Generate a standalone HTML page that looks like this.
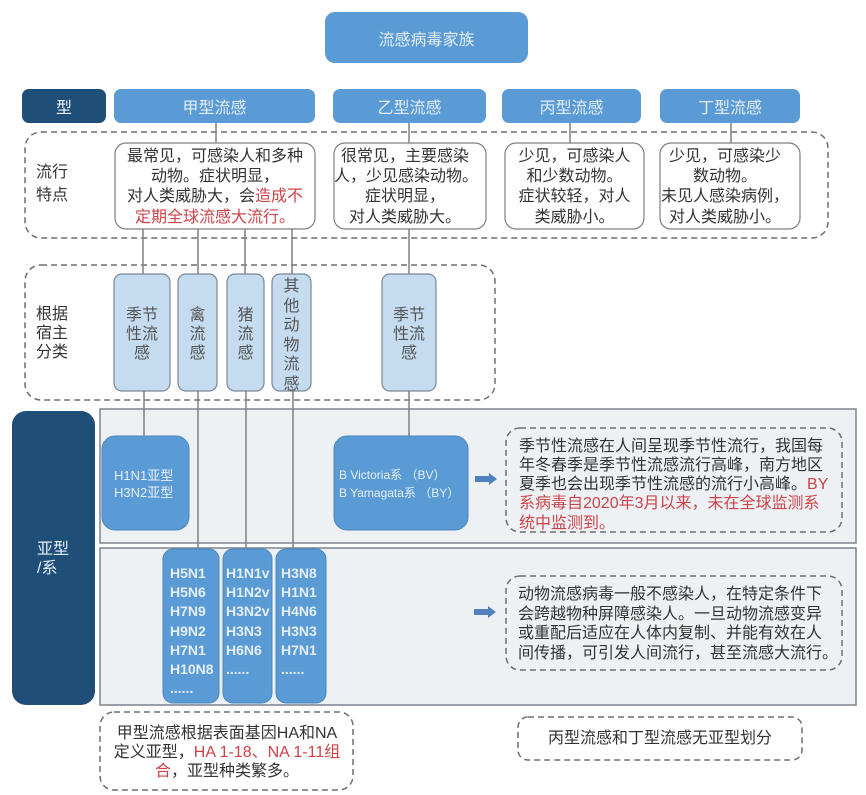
<!DOCTYPE html>
<html><head><meta charset="utf-8">
<style>
html,body{margin:0;padding:0;background:#fff;}
body{width:866px;height:795px;position:relative;overflow:hidden;font-family:"Liberation Sans","Noto Sans CJK SC",sans-serif;}
.t{position:absolute;white-space:nowrap;font-size:16px;color:#333;}
.c{text-align:center;}
.hd{position:absolute;display:flex;align-items:center;justify-content:center;color:#e3edf7;font-size:16px;white-space:nowrap;}
.r{color:#cc4449;}
.w{color:#eaf2fa;}
.sub{position:absolute;white-space:nowrap;font-size:14px;font-weight:bold;color:#e4eef8;line-height:19.2px;}
</style></head>
<body>
<svg width="866" height="795" style="position:absolute;left:0;top:0" xmlns="http://www.w3.org/2000/svg">
  <!-- title -->
  <rect x="325" y="12" width="203" height="51" rx="10" fill="#5b9bd5"/>
  <!-- type row -->
  <rect x="22" y="89" width="84" height="34" rx="7" fill="#1f4e79"/>
  <rect x="114" y="89" width="201" height="34" rx="7" fill="#5b9bd5"/>
  <rect x="333" y="89" width="153" height="34" rx="7" fill="#5b9bd5"/>
  <rect x="502" y="89" width="139" height="34" rx="7" fill="#5b9bd5"/>
  <rect x="660" y="89" width="140" height="34" rx="7" fill="#5b9bd5"/>

  <!-- dashed region 1 -->
  <rect x="25" y="132" width="803" height="106" rx="16" fill="none" stroke="#6e6e6e" stroke-width="1.5" stroke-dasharray="6 4"/>
  <!-- dashed region 2 -->
  <rect x="25" y="265" width="470" height="135" rx="16" fill="none" stroke="#6e6e6e" stroke-width="1.5" stroke-dasharray="6 4"/>

  <!-- connectors -->
  <g stroke="#808080" stroke-width="1.5">
    <line x1="216" y1="123" x2="216" y2="143"/>
    <line x1="409" y1="123" x2="409" y2="143"/>
    <line x1="570" y1="123" x2="570" y2="143"/>
    <line x1="731" y1="123" x2="731" y2="143"/>
    <line x1="143" y1="229" x2="143" y2="274"/>
    <line x1="198" y1="229" x2="198" y2="274"/>
    <line x1="245" y1="229" x2="245" y2="274"/>
    <line x1="292" y1="229" x2="292" y2="274"/>
    <line x1="409" y1="229" x2="409" y2="274"/>
  </g>

  <!-- text boxes -->
  <g fill="#fff" stroke="#7f7f7f" stroke-width="1.2">
    <rect x="115" y="143" width="200" height="86" rx="11"/>
    <rect x="334" y="143" width="152" height="86" rx="11"/>
    <rect x="505" y="143" width="139" height="86" rx="11"/>
    <rect x="660" y="143" width="140" height="86" rx="11"/>
  </g>

  <!-- host boxes -->
  <g fill="#c4dbf0" stroke="#7a8794" stroke-width="1.2">
    <rect x="114" y="274" width="56" height="117" rx="8"/>
    <rect x="178" y="274" width="39" height="117" rx="8"/>
    <rect x="227" y="274" width="37" height="117" rx="8"/>
    <rect x="272" y="274" width="39" height="117" rx="8"/>
    <rect x="382" y="274" width="54" height="117" rx="8"/>
  </g>

  <!-- panels -->
  <rect x="100" y="409" width="756" height="134" fill="#eef1f4" stroke="#7d848b" stroke-width="1.5"/>
  <rect x="100" y="548" width="756" height="157" fill="#eef1f4" stroke="#7d848b" stroke-width="1.5"/>

  <!-- navy subtype label -->
  <rect x="12" y="411" width="83" height="294" rx="14" fill="#1f4e79"/>

  <!-- connectors host -> subtype -->
  <g stroke="#808080" stroke-width="1.5">
    <line x1="144" y1="391" x2="144" y2="436"/>
    <line x1="198" y1="391" x2="198" y2="549"/>
    <line x1="246" y1="391" x2="246" y2="549"/>
    <line x1="293" y1="391" x2="293" y2="549"/>
    <line x1="409" y1="391" x2="409" y2="436"/>
  </g>

  <!-- subtype boxes -->
  <g fill="#5b9bd5" stroke="#4a86c0" stroke-width="1">
    <rect x="102" y="436" width="87" height="94" rx="13"/>
    <rect x="334" y="436" width="134" height="94" rx="13"/>
    <rect x="163" y="549" width="56" height="154" rx="10"/>
    <rect x="223" y="549" width="49" height="154" rx="10"/>
    <rect x="276" y="549" width="50" height="154" rx="10"/>
  </g>

  <!-- arrows -->
  <g fill="#4f81bd">
    <polygon points="475,476 489,476 489,473 497,479 489,485 489,482 475,482"/>
    <polygon points="474,609 488,609 488,606 496,612 488,618 488,615 474,615"/>
  </g>

  <!-- dashed text boxes -->
  <g fill="none" stroke="#6e6e6e" stroke-width="1.5" stroke-dasharray="6 4">
    <rect x="506" y="428" width="336" height="104" rx="14"/>
    <rect x="506" y="576" width="336" height="94" rx="14"/>
    <rect x="100" y="712" width="253" height="78" rx="14"/>
    <rect x="518" y="717" width="284" height="43" rx="10"/>
  </g>
</svg>

<!-- headers -->
<div class="hd" style="left:325px;top:12px;width:203px;height:51px;">流感病毒家族</div>
<div class="hd" style="left:22px;top:89px;width:84px;height:34px;color:#eef3f8;">型</div>
<div class="hd" style="left:114px;top:89px;width:201px;height:34px;">甲型流感</div>
<div class="hd" style="left:333px;top:89px;width:153px;height:34px;">乙型流感</div>
<div class="hd" style="left:502px;top:89px;width:139px;height:34px;">丙型流感</div>
<div class="hd" style="left:660px;top:89px;width:140px;height:34px;">丁型流感</div>

<!-- row labels -->
<div class="t" style="left:36px;top:161px;line-height:23px;">流行<br>特点</div>
<div class="t" style="left:36px;top:305px;line-height:19px;">根据<br>宿主<br>分类</div>
<div class="t" style="left:37px;top:540px;line-height:19px;color:#e6eef6;">亚型<br>/系</div>

<!-- feature text -->
<div class="t c" style="left:115px;top:147px;width:200px;line-height:20.2px;">最常见，可感染人和多种<br>动物。症状明显，<br>对人类威胁大，会<span class="r">造成不</span><br><span class="r">定期全球流感大流行。</span></div>
<div class="t c" style="left:334px;top:147px;width:142px;line-height:20.2px;">很常见，主要感染<br>人，少见感染动物。<br>症状明显，<br>对人类威胁大。</div>
<div class="t c" style="left:505px;top:147px;width:139px;line-height:20.2px;">少见，可感染人<br>和少数动物。<br>症状较轻，对人<br>类威胁小。</div>
<div class="t c" style="left:660px;top:147px;width:130px;line-height:20.2px;">少见，可感染少<br>数动物。<br>未见人感染病例，<br>对人类威胁小。</div>

<!-- host text -->
<div class="t c" style="left:114px;top:305.5px;width:56px;line-height:19px;color:#555;">季节<br>性流<br>感</div>
<div class="t c" style="left:178px;top:305.5px;width:39px;line-height:19px;color:#555;">禽<br>流<br>感</div>
<div class="t c" style="left:227px;top:305.5px;width:37px;line-height:19px;color:#555;">猪<br>流<br>感</div>
<div class="t c" style="left:272px;top:277px;width:39px;line-height:19.6px;color:#555;">其<br>他<br>动<br>物<br>流<br>感</div>
<div class="t c" style="left:382px;top:305.5px;width:54px;line-height:19px;color:#555;">季节<br>性流<br>感</div>

<!-- subtype text -->
<div class="t" style="left:114px;top:466.5px;font-size:13px;line-height:17px;color:#e6eff8;">H1N1亚型<br>H3N2亚型</div>
<div class="t" style="left:339px;top:466px;font-size:12px;line-height:18px;color:#e6eff8;">B Victoria系 （BV）<br>B Yamagata系 （BY）</div>

<div class="sub" style="left:170px;top:564px;">H5N1<br>H5N6<br>H7N9<br>H9N2<br>H7N1<br>H10N8<br>......</div>
<div class="sub" style="left:226px;top:564px;">H1N1v<br>H1N2v<br>H3N2v<br>H3N3<br>H6N6<br>......</div>
<div class="sub" style="left:281px;top:564px;">H3N8<br>H1N1<br>H4N6<br>H3N3<br>H7N1<br>......</div>

<!-- explanation text -->
<div class="t" style="left:519px;top:437px;line-height:19.15px;">季节性流感在人间呈现季节性流行，我国每<br>年冬春季是季节性流感流行高峰，南方地区<br>夏季也会出现季节性流感的流行小高峰。<span class="r">BY</span><br><span class="r">系病毒自2020年3月以来，未在全球监测系</span><br><span class="r">统中监测到。</span></div>
<div class="t" style="left:518px;top:585.3px;line-height:19.4px;">动物流感病毒一般不感染人，在特定条件下<br>会跨越物种屏障感染人。一旦动物流感变异<br>或重配后适应在人体内复制、并能有效在人<br>间传播，可引发人间流行，甚至流感大流行。</div>

<div class="t c" style="left:100px;top:723.7px;width:254px;line-height:19.2px;">甲型流感根据表面基因HA和NA<br>定义亚型，<span class="r">HA 1-18、NA 1-11组</span><br><span class="r">合</span>，亚型种类繁多。</div>
<div class="t c" style="left:518px;top:729px;width:284px;line-height:19px;">丙型流感和丁型流感无亚型划分</div>
</body></html>
